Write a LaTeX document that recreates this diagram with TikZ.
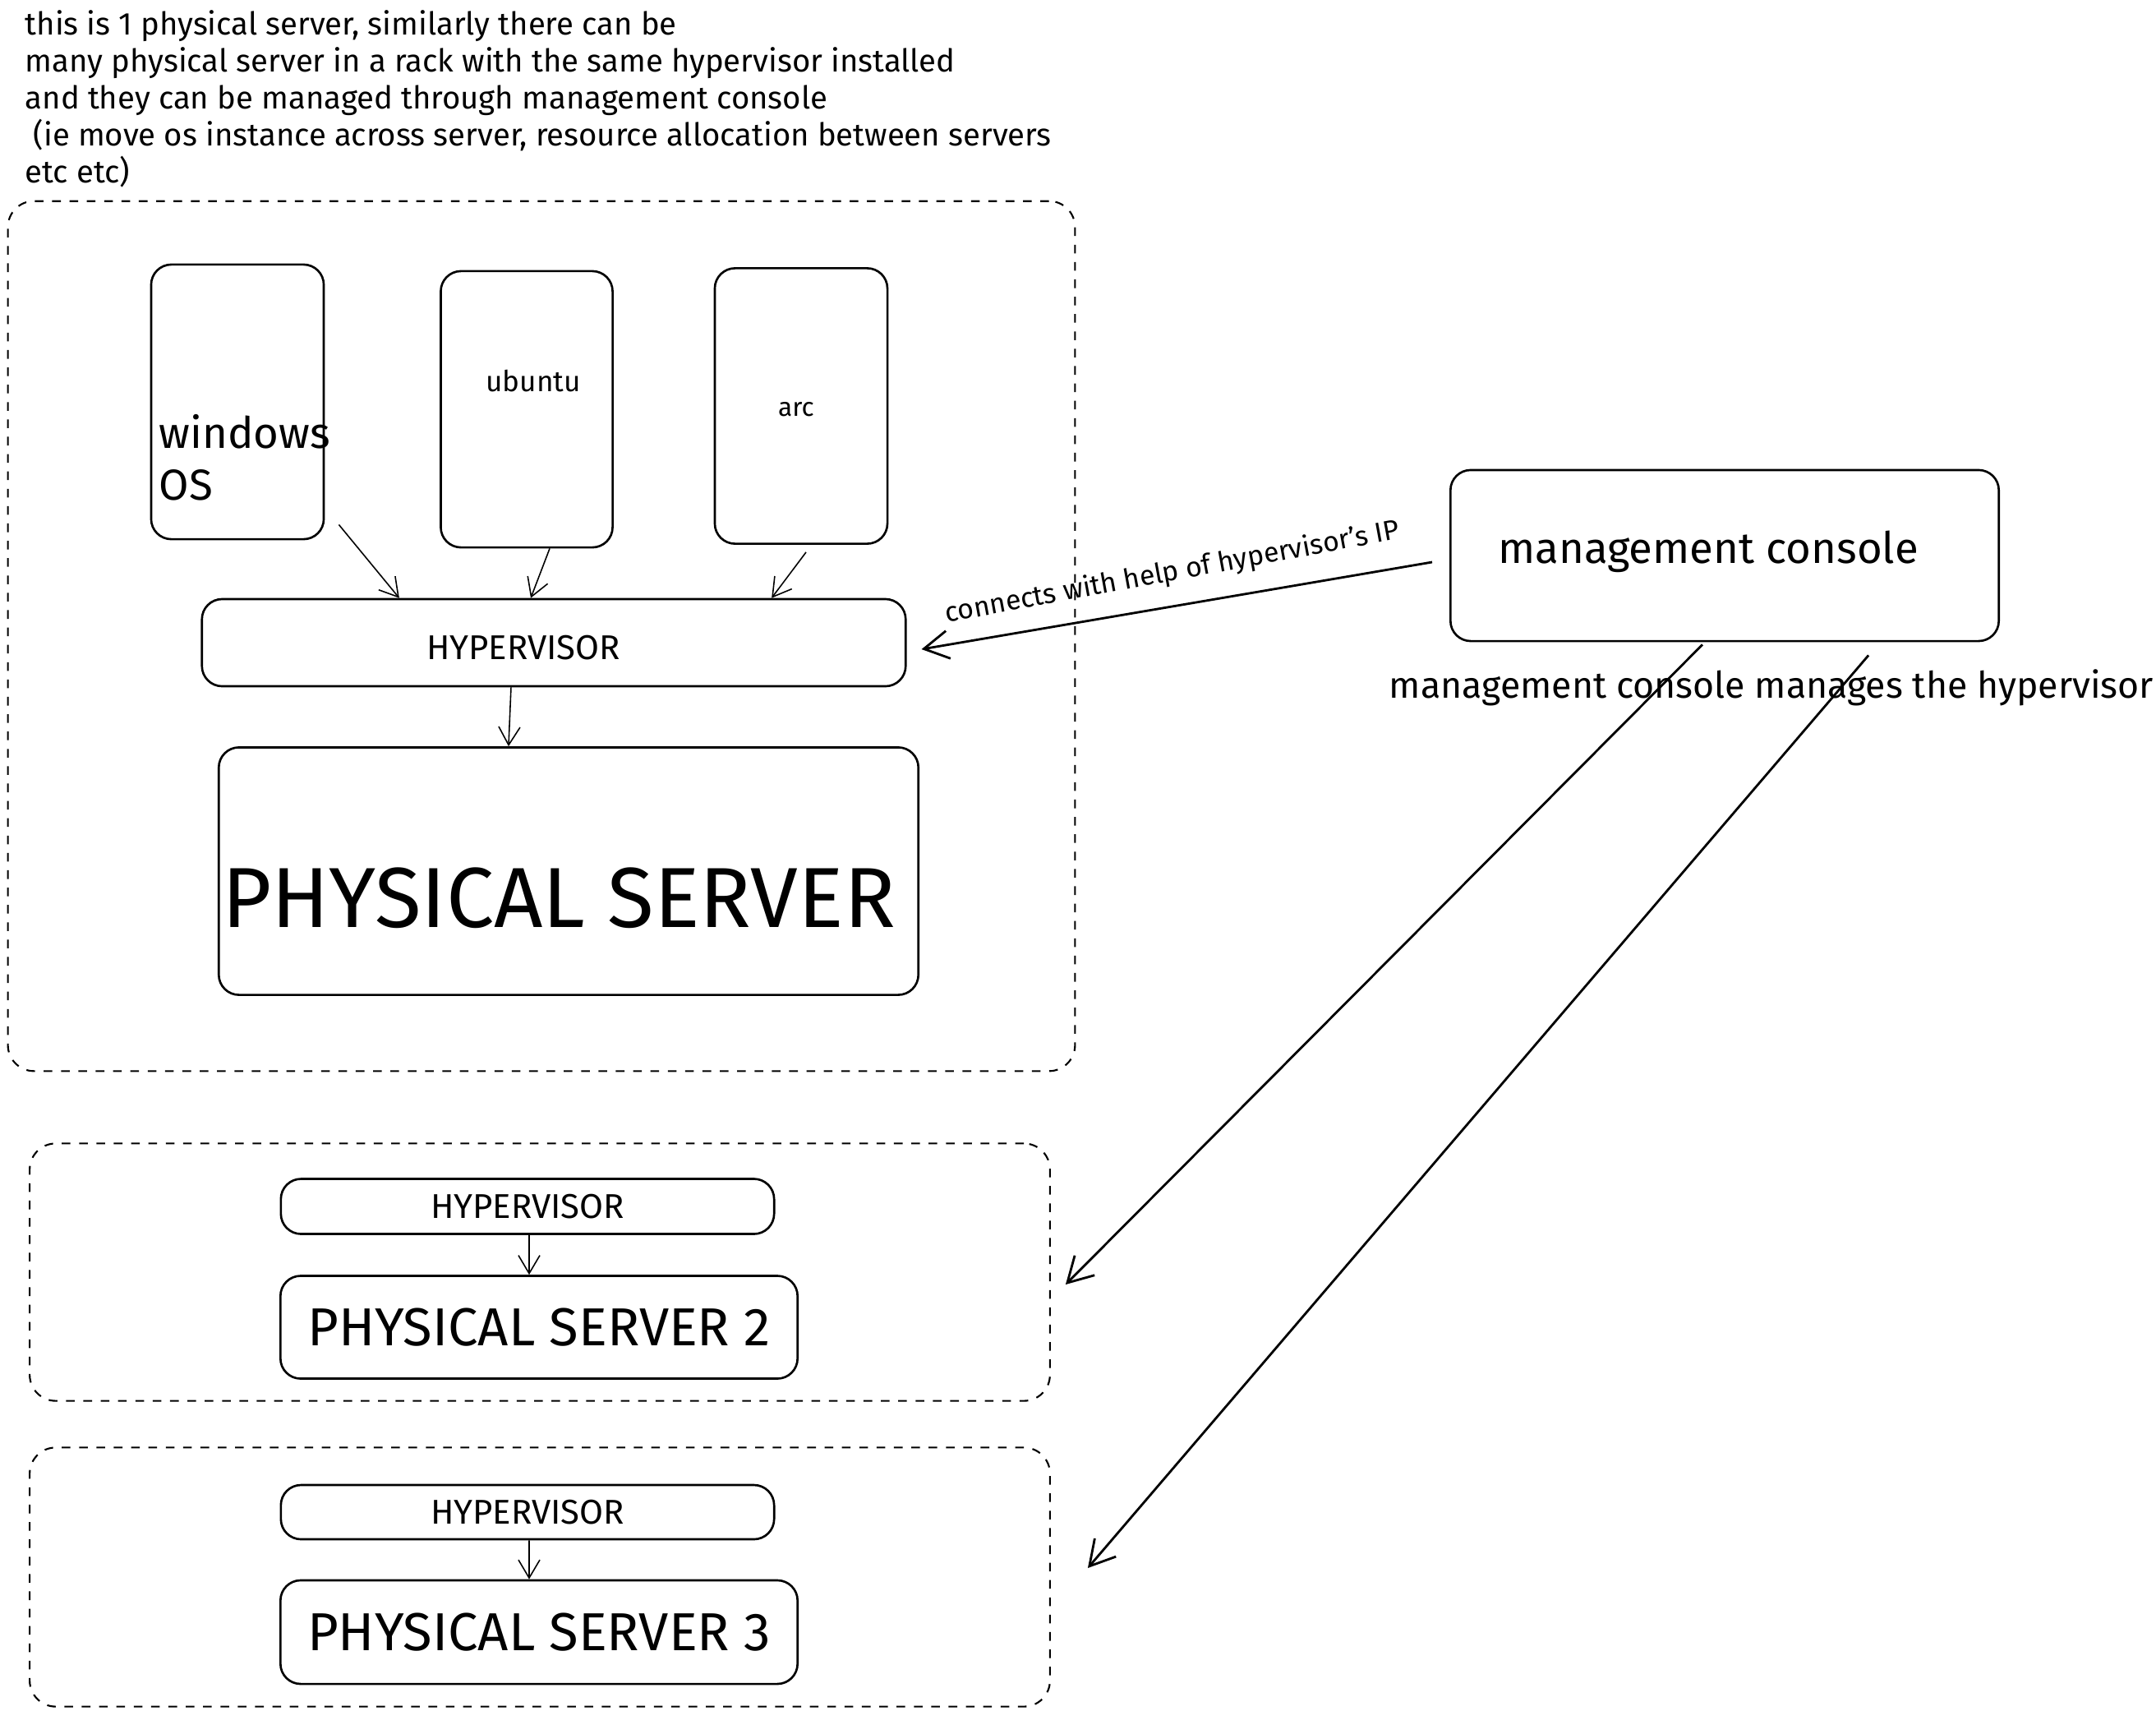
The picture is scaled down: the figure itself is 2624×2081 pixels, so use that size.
\documentclass[tikz,border=0pt]{standalone}
\usepackage{fontspec}
\setmainfont{Fira Sans}
\usetikzlibrary{arrows.meta}

\tikzset{
  box/.style={draw, line width=0.75pt, rounded corners=7pt, inner sep=0pt},
  rack/.style={draw, dashed, line width=0.6pt, rounded corners=9pt, inner sep=0pt},
  link/.style={-{Straight Barb[length=2.2mm,width=2.6mm]}, line width=0.45pt},
  mlink/.style={-{Straight Barb[length=3mm,width=3.4mm]}, line width=0.8pt},
}

\begin{document}
\begin{tikzpicture}[x=0.01cm, y=-0.01cm]
            \useasboundingbox (0,0) rectangle (2624,2081);

            \node[anchor=north west, align=left, inner sep=0pt, font=\fontsize{10.9}{12.8}\selectfont] (note) at (30,12)
                {this is 1 physical server, similarly there can be\\
                 many physical server in a rack with the same hypervisor installed\\
                 and they can be managed through management console\\
                 \ (ie move os instance across server, resource allocation between servers\\
                 etc etc)};

            \node[rack, minimum width=12.98cm, minimum height=10.58cm] (rack1) at (659,774) {};
            \node[box, minimum width=2.10cm, minimum height=3.34cm] (win) at (289,489) {};
            \node[box, minimum width=2.09cm, minimum height=3.36cm] (ubu) at (641,498) {};
            \node[box, minimum width=2.10cm, minimum height=3.35cm] (arc) at (975,494) {};
            \node[anchor=west, align=left, inner sep=0pt, font=\fontsize{15}{18}\selectfont] (winlbl) at (193,557) {windows\\OS};
            \node[inner sep=0pt, font=\fontsize{10}{12}\selectfont] (ubulbl) at (649,464) {ubuntu};
            \node[inner sep=0pt, font=\fontsize{9}{11}\selectfont] (arclbl) at (969,498) {arc};
            \node[box, minimum width=8.56cm, minimum height=1.06cm] (hyp1) at (674,782) {};
            \node[inner sep=0pt, font=\fontsize{11.9}{14}\selectfont] (hyp1lbl) at (637,788) {HYPERVISOR};
            \node[box, minimum width=8.51cm, minimum height=3.01cm] (ps1) at (692,1060) {};
            \node[inner sep=0pt, font=\fontsize{29.5}{34}\selectfont] (ps1lbl) at (680,1093) {PHYSICAL SERVER};

            \node[rack, minimum width=12.41cm, minimum height=3.13cm] (rack2) at (657,1548) {};
            \node[box, minimum width=6.00cm, minimum height=0.67cm, font=\fontsize{11.9}{14}\selectfont] (hyp2) at (642,1468) {HYPERVISOR};
            \node[box, minimum width=6.29cm, minimum height=1.25cm, font=\fontsize{18.5}{22}\selectfont] (ps2) at (656,1615) {PHYSICAL SERVER 2};

            \node[rack, minimum width=12.41cm, minimum height=3.15cm] (rack3) at (657,1919) {};
            \node[box, minimum width=6.00cm, minimum height=0.66cm, font=\fontsize{11.9}{14}\selectfont] (hyp3) at (642,1840) {HYPERVISOR};
            \node[box, minimum width=6.29cm, minimum height=1.26cm, font=\fontsize{18.5}{22}\selectfont] (ps3) at (656,1986) {PHYSICAL SERVER 3};

            \node[box, minimum width=6.67cm, minimum height=2.08cm] (mc) at (2099,676) {};
            \node[inner sep=0pt, font=\fontsize{15}{18}\selectfont] (mclbl) at (2079,671) {management console};
            \node[inner sep=0pt, font=\fontsize{12.7}{15}\selectfont] (mcnote) at (2156,837) {management console manages the hypervisor};
            \node[inner sep=0pt, rotate=10.5, font=\fontsize{9.6}{11}\selectfont] (iplbl) at (1427,697) {connects with help of hypervisor's IP};

            \draw[link] ([xshift=0.17cm,yshift=0.19cm]win.south east) -- ([xshift=-1.88cm]hyp1.north);
            \draw[link] ([xshift=0.28cm]ubu.south) -- ([xshift=-0.28cm]hyp1.north);
            \draw[link] ([xshift=0.06cm,yshift=-0.09cm]arc.south) -- ([xshift=2.65cm]hyp1.north);
            \draw[link] ([xshift=-0.52cm]hyp1.south) -- ([xshift=-0.73cm]ps1.north);
            \draw[link] ([xshift=0.02cm]hyp2.south) -- ([xshift=-0.12cm]ps2.north);
            \draw[link] ([xshift=0.02cm]hyp3.south) -- ([xshift=-0.12cm]ps3.north);

            \draw[mlink] ([xshift=-0.21cm,yshift=-0.08cm]mc.west) -- ([xshift=0.18cm,yshift=-0.08cm]hyp1.east);
            \draw[mlink] ([xshift=-0.27cm,yshift=-0.03cm]mc.south) -- ([xshift=0.18cm,yshift=-0.15cm]rack2.east);
            \draw[mlink] ([xshift=1.75cm,yshift=-0.16cm]mc.south) -- ([xshift=0.45cm,yshift=0.11cm]rack3.east);
        \end{tikzpicture}
\end{document}
